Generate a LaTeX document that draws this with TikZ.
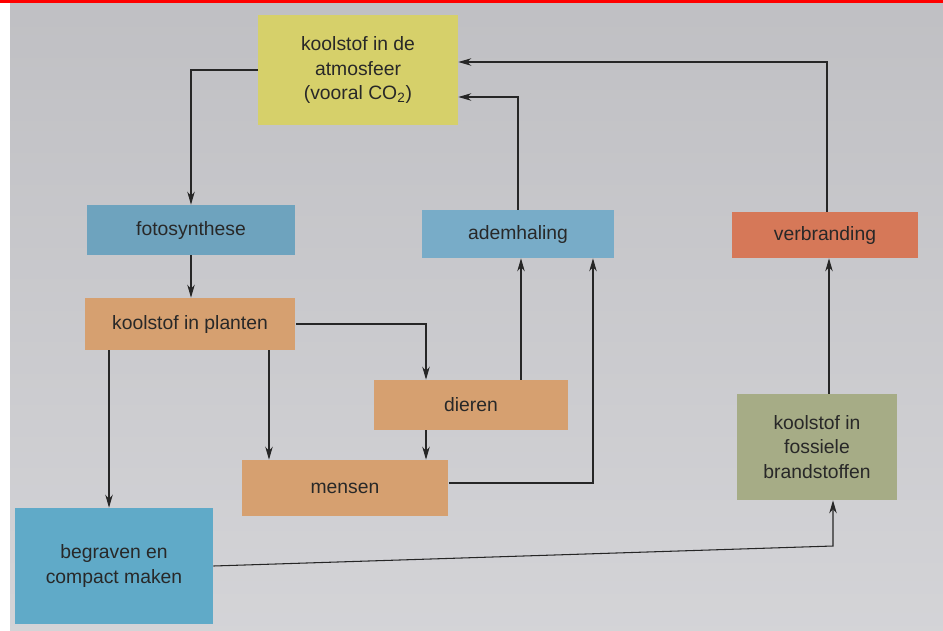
\documentclass[tikz,border=0pt]{standalone}
\usepackage{fontspec}
\setmainfont{Liberation Sans}
\usetikzlibrary{arrows.meta}

\definecolor{achtergrond}{RGB}{204,204,208}
\definecolor{geel}{RGB}{214,208,106}
\definecolor{blauwA}{RGB}{110,163,190}
\definecolor{blauwB}{RGB}{120,172,200}
\definecolor{blauwC}{RGB}{96,170,200}
\definecolor{bruin}{RGB}{214,160,112}
\definecolor{rood}{RGB}{214,120,88}
\definecolor{groen}{RGB}{166,172,134}
\definecolor{tekst}{RGB}{40,40,40}

\begin{document}
\begin{tikzpicture}[x=0.02cm, y=-0.02cm]
        % Stijl van de vakken en pijlen
        \tikzset{vak/.style={inner sep=2pt, align=center, text=tekst, font=\fontsize{11}{14}\selectfont},
                 pijl/.style={-{Stealth[length=2.6mm, width=1.5mm]}, line width=0.6pt, black!85}}

        % --- ACHTERGROND ---
        \useasboundingbox (0,0) rectangle (943,630);
        \fill[white] (0,0) rectangle (943,630);
        \fill[top color=achtergrond!94!black, bottom color=achtergrond!85!white] (10,3) rectangle (943,630);
        \fill[red] (0,0) rectangle (943,3);

        % --- VAKKEN ---
        \node[vak, fill=geel, minimum width=4cm, minimum height=2.2cm] (atmosfeer) at (358,70)
            {koolstof in de\\atmosfeer\\(vooral CO\textsubscript{2})};
        \node[vak, fill=blauwA, minimum width=4.18cm, minimum height=1cm] (fotosynthese) at (191,230) {fotosynthese};
        \node[vak, fill=blauwB, minimum width=3.84cm, minimum height=0.96cm] (ademhaling) at (518,234) {ademhaling};
        \node[vak, fill=rood, minimum width=3.72cm, minimum height=0.92cm] (verbranding) at (825,235) {verbranding};
        \node[vak, fill=bruin, minimum width=4.22cm, minimum height=1.04cm] (planten) at (190,324) {koolstof in planten};
        \node[vak, fill=bruin, minimum width=3.9cm, minimum height=1cm] (dieren) at (471,405) {dieren};
        \node[vak, fill=bruin, minimum width=4.14cm, minimum height=1.12cm] (mensen) at (345,488) {mensen};
        \node[vak, fill=groen, minimum width=3.22cm, minimum height=2.12cm] (fossiel) at (817,447)
            {koolstof in\\fossiele\\brandstoffen};
        \node[vak, fill=blauwC, minimum width=3.96cm, minimum height=2.32cm] (begraven) at (114,566)
            {begraven en\\compact maken};

        % --- HULPPUNTEN ---
        \coordinate (plantenA) at ([xshift=-1.62cm]planten.south);
        \coordinate (plantenB) at ([xshift=1.58cm]planten.south);
        \coordinate (dierenA) at ([xshift=-0.9cm]dieren.south);
        \coordinate (dierenB) at ([xshift=1cm]dieren.north);
        \coordinate (fossielA) at ([xshift=0.24cm]fossiel.north);
        \coordinate (knik) at (833,546);

        % --- PIJLEN ---
        \draw[pijl] (atmosfeer.west) -| (fotosynthese.north);
        \draw[pijl] (fotosynthese.south) -- (fotosynthese.south |- planten.north);
        \draw[pijl] (planten.east) -| ([xshift=-0.9cm]dieren.north);
        \draw[pijl] (plantenB) -- (plantenB |- mensen.north);
        \draw[pijl] (plantenA) -- (plantenA |- begraven.north);
        \draw[pijl] (dierenA) -- (dierenA |- mensen.north);
        \draw[pijl] (dierenB) -- (dierenB |- ademhaling.south);
        \draw[pijl] ([yshift=0.1cm]mensen.east) -| ([xshift=1.5cm]ademhaling.south);
        \draw[pijl] (ademhaling.north) |- ([yshift=-0.54cm]atmosfeer.east);
        \draw[pijl] ([xshift=0.04cm]verbranding.north) |- ([yshift=0.16cm]atmosfeer.east);
        \draw[pijl] (fossielA) -- (fossielA |- verbranding.south);
        \draw[pijl] (begraven.east) -- (knik) -- (knik |- fossiel.south);
    \end{tikzpicture}
\end{document}
